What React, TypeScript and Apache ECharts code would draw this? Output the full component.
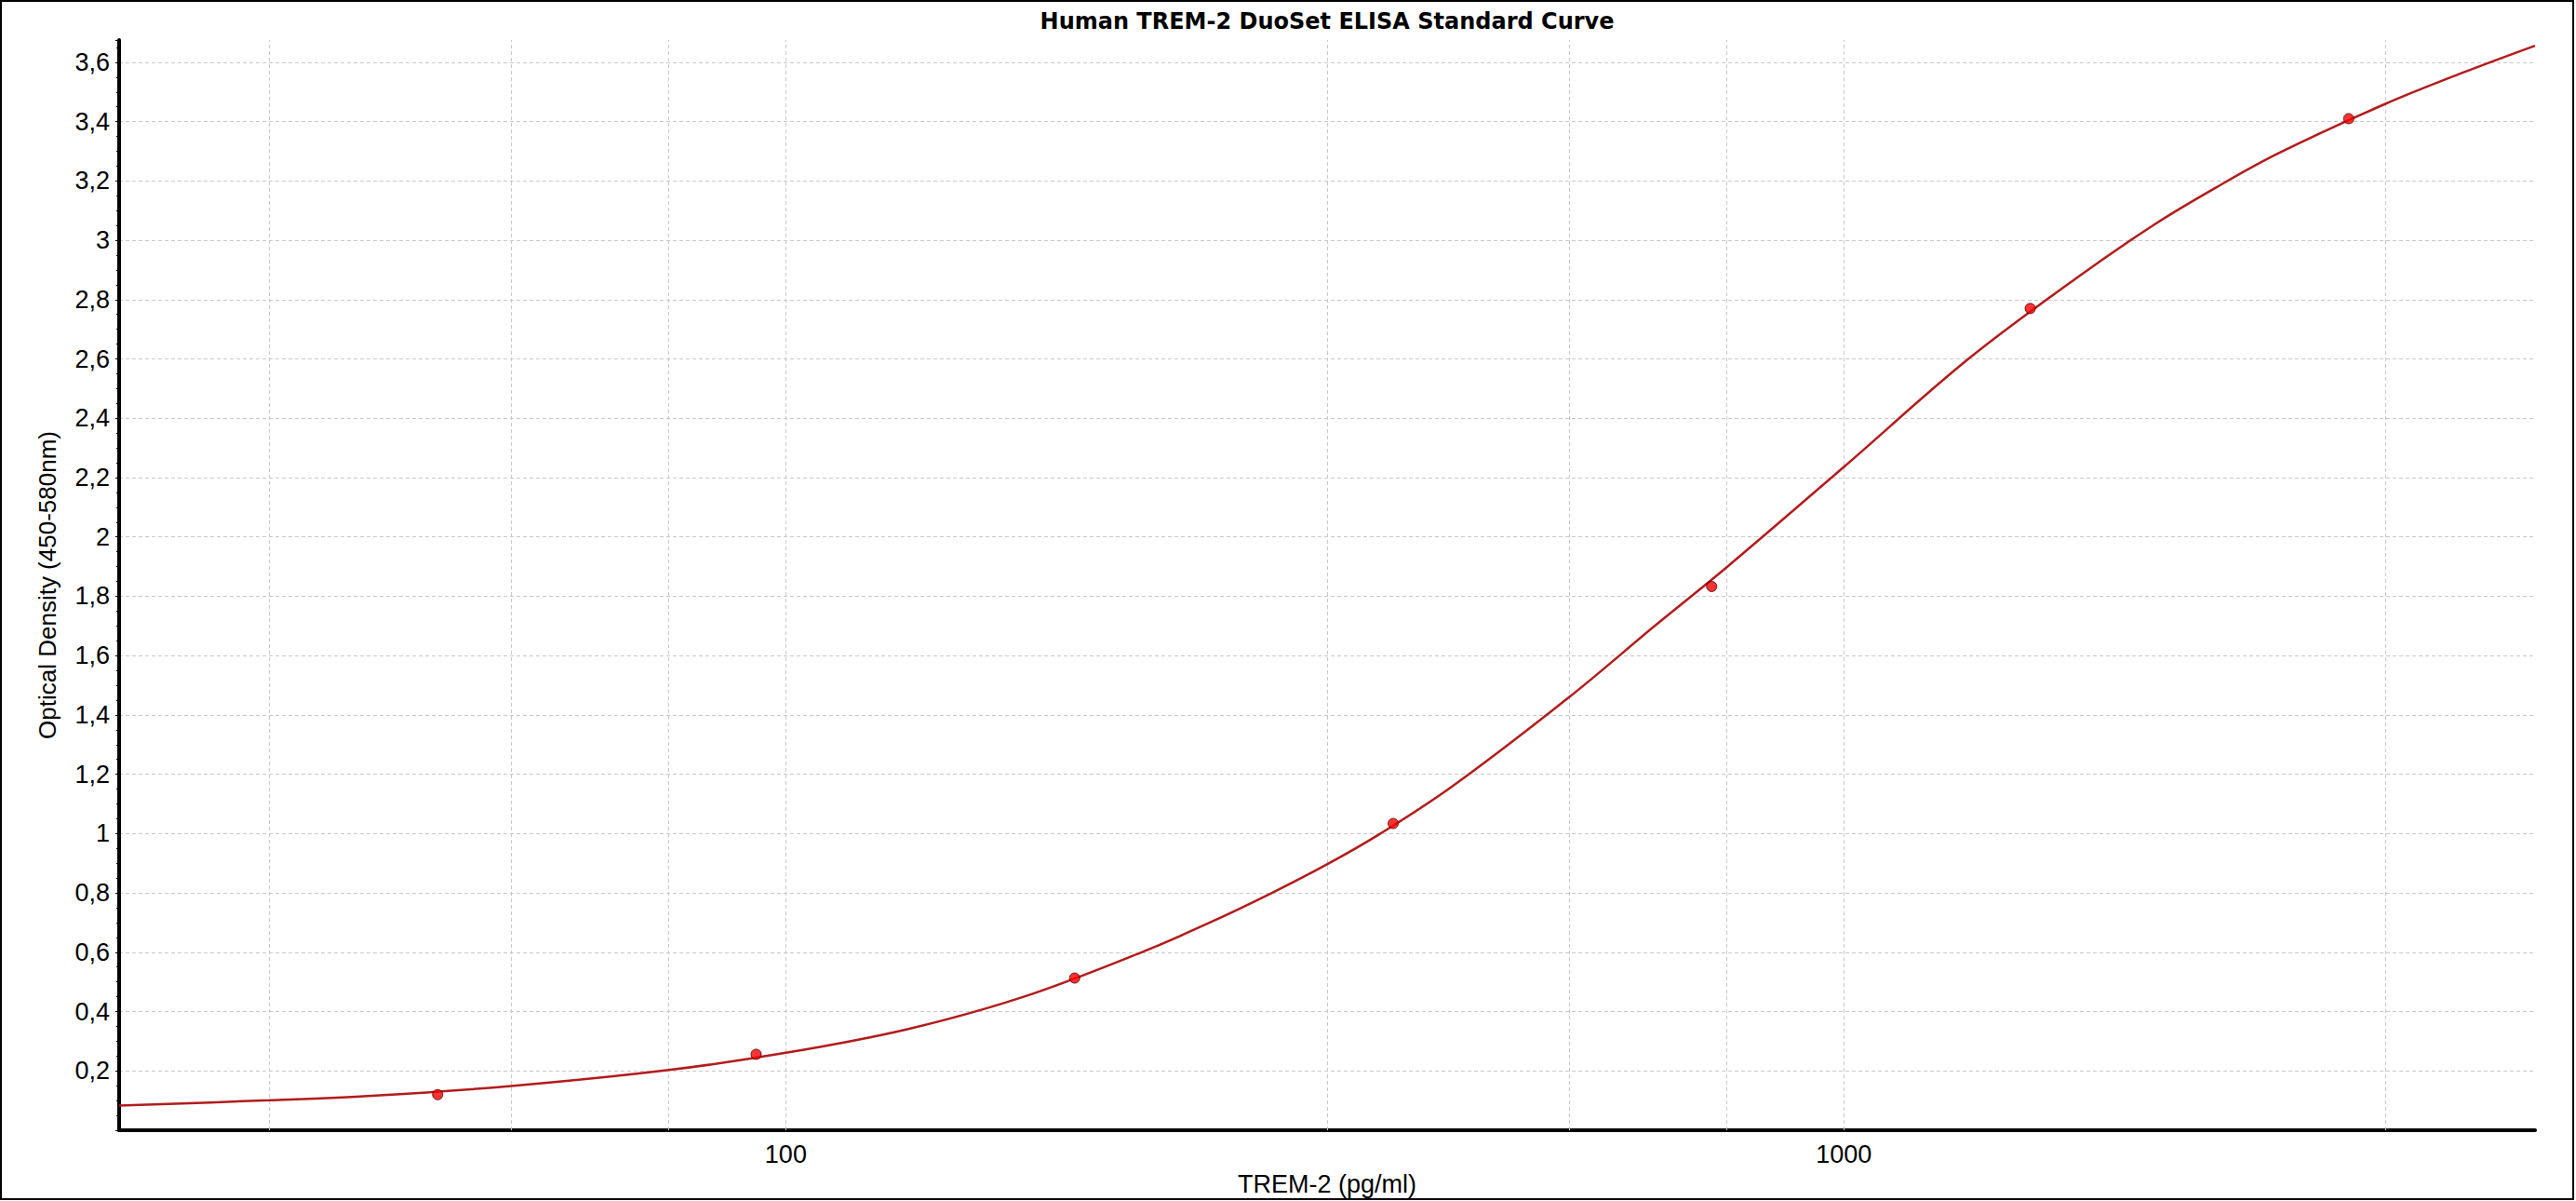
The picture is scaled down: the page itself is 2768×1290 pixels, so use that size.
import React, { useEffect, useRef } from "react";
import * as echarts from "echarts";

// Standards (pg/ml) and measured OD
const standardConc = [46.875, 93.75, 187.5, 375, 750, 1500, 3000];
const standardOD = [0.12, 0.256, 0.513, 1.034, 1.833, 2.77, 3.41];

// Fitted curve
const curveConc = [23.44, 32.5, 40.6, 55, 77.5, 100, 130, 167.8, 216.9, 251.6, 288, 325, 364.7, 426, 550, 665, 775, 1000, 1307, 1655, 1965, 2248, 2574, 3250, 3858, 4500];
const curveOD = [0.083, 0.101, 0.116, 0.149, 0.203, 0.261, 0.34, 0.45, 0.6, 0.7, 0.8, 0.897, 1.0, 1.158, 1.46, 1.705, 1.898, 2.236, 2.596, 2.87, 3.053, 3.178, 3.293, 3.46, 3.567, 3.656];

// Vertical grid lines of the log axis
const xGridLines = [32.5, 55, 77.5, 100, 325, 550, 775, 1000, 3250];

const titleText = "Human TREM-2 DuoSet ELISA Standard Curve";
const xName = "TREM-2 (pg/ml)";
const yName = "Optical Density (450-580nm)";

const W = 2768;
const H = 1290;

export default function App() {
  const ref = useRef<HTMLDivElement>(null);
  useEffect(() => {
    if (!ref.current) return;
    const chart = echarts.init(ref.current, null, { renderer: "svg" });
    const font = "'Liberation Sans', Arial, sans-serif";
    const gridColor = "#c8c8c8";
    chart.setOption({
      animation: false,
      backgroundColor: "#ffffff",
      title: {
        text: titleText,
        left: 1426,
        top: 11,
        padding: 0,
        textAlign: "center",
        textStyle: {
          fontFamily: "'DejaVu Sans', Verdana, sans-serif",
          fontWeight: "bold",
          fontSize: 24,
          color: "#000",
        },
      },
      grid: { left: 128, right: 44, top: 43, bottom: 75, containLabel: false },
      xAxis: {
        type: "log",
        logBase: 10,
        min: 23.4375,
        max: 4500,
        name: xName,
        nameLocation: "middle",
        nameGap: 44,
        nameTextStyle: { fontFamily: font, fontSize: 27, color: "#000" },
        axisLine: { show: true, onZero: false, lineStyle: { color: "#000", width: 4 } },
        axisTick: { show: false },
        minorTick: { show: false },
        axisLabel: {
          showMinLabel: false,
          showMaxLabel: false,
          margin: 12,
          fontFamily: font,
          fontSize: 27,
          color: "#000",
          formatter: (v: number) => String(Math.round(v)),
        },
        splitLine: { show: false },
      },
      yAxis: {
        type: "value",
        min: 0,
        max: 3.675,
        interval: 0.2,
        name: yName,
        nameLocation: "middle",
        nameGap: 64,
        nameTextStyle: { fontFamily: font, fontSize: 26, color: "#000" },
        axisLine: { show: true, onZero: false, lineStyle: { color: "#000", width: 4 } },
        axisTick: { show: true, length: 4, lineStyle: { color: "#000", width: 1 } },
        minorTick: { show: true, splitNumber: 4, length: 3, lineStyle: { color: "#000", width: 1 } },
        axisLabel: {
          showMinLabel: false,
          showMaxLabel: false,
          margin: 10,
          fontFamily: font,
          fontSize: 27,
          color: "#000",
          formatter: (v: number) => (v === 0 ? "" : String(+v.toFixed(1)).replace(".", ",")),
        },
        splitLine: {
          show: true,
          showMinLine: false,
          showMaxLine: false,
          lineStyle: { color: gridColor, type: [4, 3], width: 1 },
        },
      },
      graphic: [
        {
          type: "rect",
          shape: { x: 1, y: 1, width: W - 4, height: H - 3 },
          style: { fill: "none", stroke: "#000", lineWidth: 2 },
          silent: true,
          z: 100,
        },
      ],
      series: [
        {
          type: "line",
          data: curveConc.map((c, i) => [c, curveOD[i]]),
          showSymbol: false,
          symbol: "none",
          smooth: 0.35,
          lineStyle: { color: "#b31b1b", width: 2.5 },
          z: 3,
          markLine: {
            silent: true,
            symbol: "none",
            label: { show: false },
            lineStyle: { color: gridColor, type: [4, 3], width: 1 },
            data: xGridLines.map((v) => ({ xAxis: v })),
            z: 1,
          },
        },
        {
          type: "scatter",
          data: standardConc.map((c, i) => [c, standardOD[i]]),
          symbol: "circle",
          symbolSize: 11,
          itemStyle: { color: "#ff0000", borderColor: "#3a0000", borderWidth: 1 },
          z: 4,
        },
      ],
    });
    return () => chart.dispose();
  }, []);
  return (
    <div
      ref={ref}
      style={{ position: "fixed", left: 0, top: 0, width: W, height: H, background: "#fff" }}
    />
  );
}
